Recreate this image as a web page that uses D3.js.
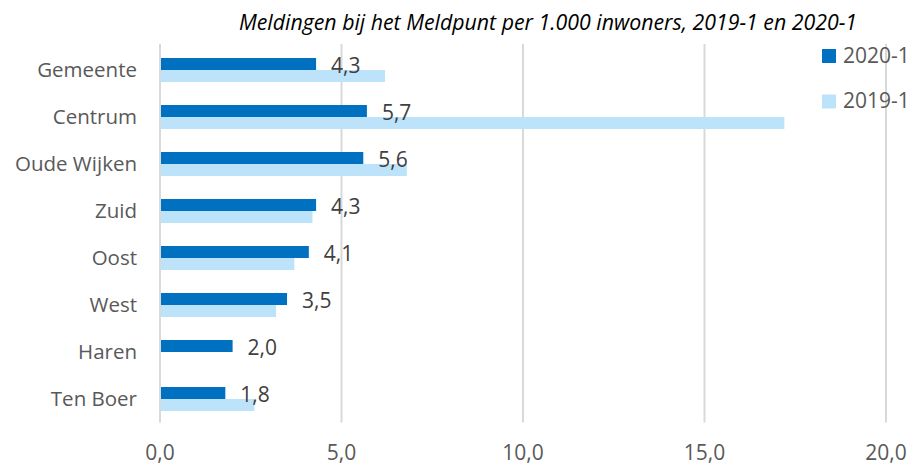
<!DOCTYPE html>
<html>
<head>
<meta charset="utf-8">
<script src="https://cdn.jsdelivr.net/npm/d3@7"></script>
<style>
  body { margin: 0; background: #fff; }
  svg text { font-family: "Open Sans", "Segoe UI", sans-serif; }
</style>
</head>
<body>
<div id="chart"></div>
<script>
// data
const categories = ["Gemeente", "Centrum", "Oude Wijken", "Zuid", "Oost", "West", "Haren", "Ten Boer"];
const seriesNames = ["2020-1", "2019-1"];
const values2020 = [4.3, 5.7, 5.6, 4.3, 4.1, 3.5, 2.0, 1.8];
const values2019 = [6.2, 17.2, 6.8, 4.2, 3.7, 3.2, null, 2.6];
const xTicks = [0, 5, 10, 15, 20];
const colors = ["#0070C0", "#BDE3FB"];

const width = 913, height = 467;
const margin = { top: 46.5, right: 27, bottom: 44.5, left: 160 };
const comma = v => d3.format(".1f")(v).replace(".", ",");

const svg = d3.select("#chart").append("svg")
  .attr("width", width)
  .attr("height", height);

// scales
const x = d3.scaleLinear().domain([0, 20]).range([margin.left, width - margin.right]);
const y = d3.scaleBand().domain(categories)
  .range([margin.top, height - margin.bottom])
  .paddingInner(0.49).paddingOuter(0.245);
const ySub = d3.scaleBand().domain(seriesNames).range([0, y.bandwidth()]);

// gridlines
svg.append("g")
  .selectAll("line")
  .data(xTicks)
  .join("line")
  .attr("x1", d => x(d)).attr("x2", d => x(d))
  .attr("y1", 44).attr("y2", height - margin.bottom)
  .attr("stroke", "#D9D9D9")
  .attr("stroke-width", 2);

// bars
const rows = categories.map((c, i) => ({ cat: c, vals: [values2020[i], values2019[i]] }));
const groups = svg.append("g").selectAll("g")
  .data(rows)
  .join("g")
  .attr("transform", d => `translate(0,${y(d.cat)})`);

groups.selectAll("rect")
  .data(d => d.vals.map((v, j) => ({ key: seriesNames[j], v: v, j: j })).filter(e => e.v != null))
  .join("rect")
  .attr("x", x(0) + 1)
  .attr("y", d => ySub(d.key))
  .attr("width", d => x(d.v) - x(0) - 1)
  .attr("height", ySub.bandwidth())
  .attr("fill", d => colors[d.j]);

// data labels (2020-1 only)
groups.append("text")
  .attr("x", d => x(d.vals[0]) + 15)
  .attr("y", d => ySub("2020-1") + ySub.bandwidth() / 2 + 8.8)
  .attr("font-size", 21)
  .attr("fill", "#404040")
  .text(d => comma(d.vals[0]));

// category labels
svg.append("g").selectAll("text")
  .data(categories)
  .join("text")
  .attr("x", 137)
  .attr("y", d => y(d) + y.bandwidth() / 2 + 7)
  .attr("text-anchor", "end")
  .attr("font-size", 20.5)
  .attr("fill", "#595959")
  .text(d => d);

// x axis labels
svg.append("g").selectAll("text")
  .data(xTicks)
  .join("text")
  .attr("x", d => x(d))
  .attr("y", 460)
  .attr("text-anchor", "middle")
  .attr("font-size", 21)
  .attr("fill", "#595959")
  .text(d => comma(d));

// title
svg.append("text")
  .attr("x", 548)
  .attr("y", 30)
  .attr("text-anchor", "middle")
  .attr("font-size", 21.3)
  .attr("font-style", "italic")
  .attr("fill", "#000")
  .text("Meldingen bij het Meldpunt per 1.000 inwoners, 2019-1 en 2020-1");

// legend
const legend = svg.append("g").selectAll("g")
  .data(seriesNames)
  .join("g")
  .attr("transform", (d, i) => `translate(822,${49 + i * 45.5})`);
legend.append("rect")
  .attr("width", 14).attr("height", 14)
  .attr("fill", (d, i) => colors[i]);
legend.append("text")
  .attr("x", 21)
  .attr("y", 13.5)
  .attr("font-size", 21)
  .attr("fill", "#595959")
  .text(d => d);
</script>
</body>
</html>
